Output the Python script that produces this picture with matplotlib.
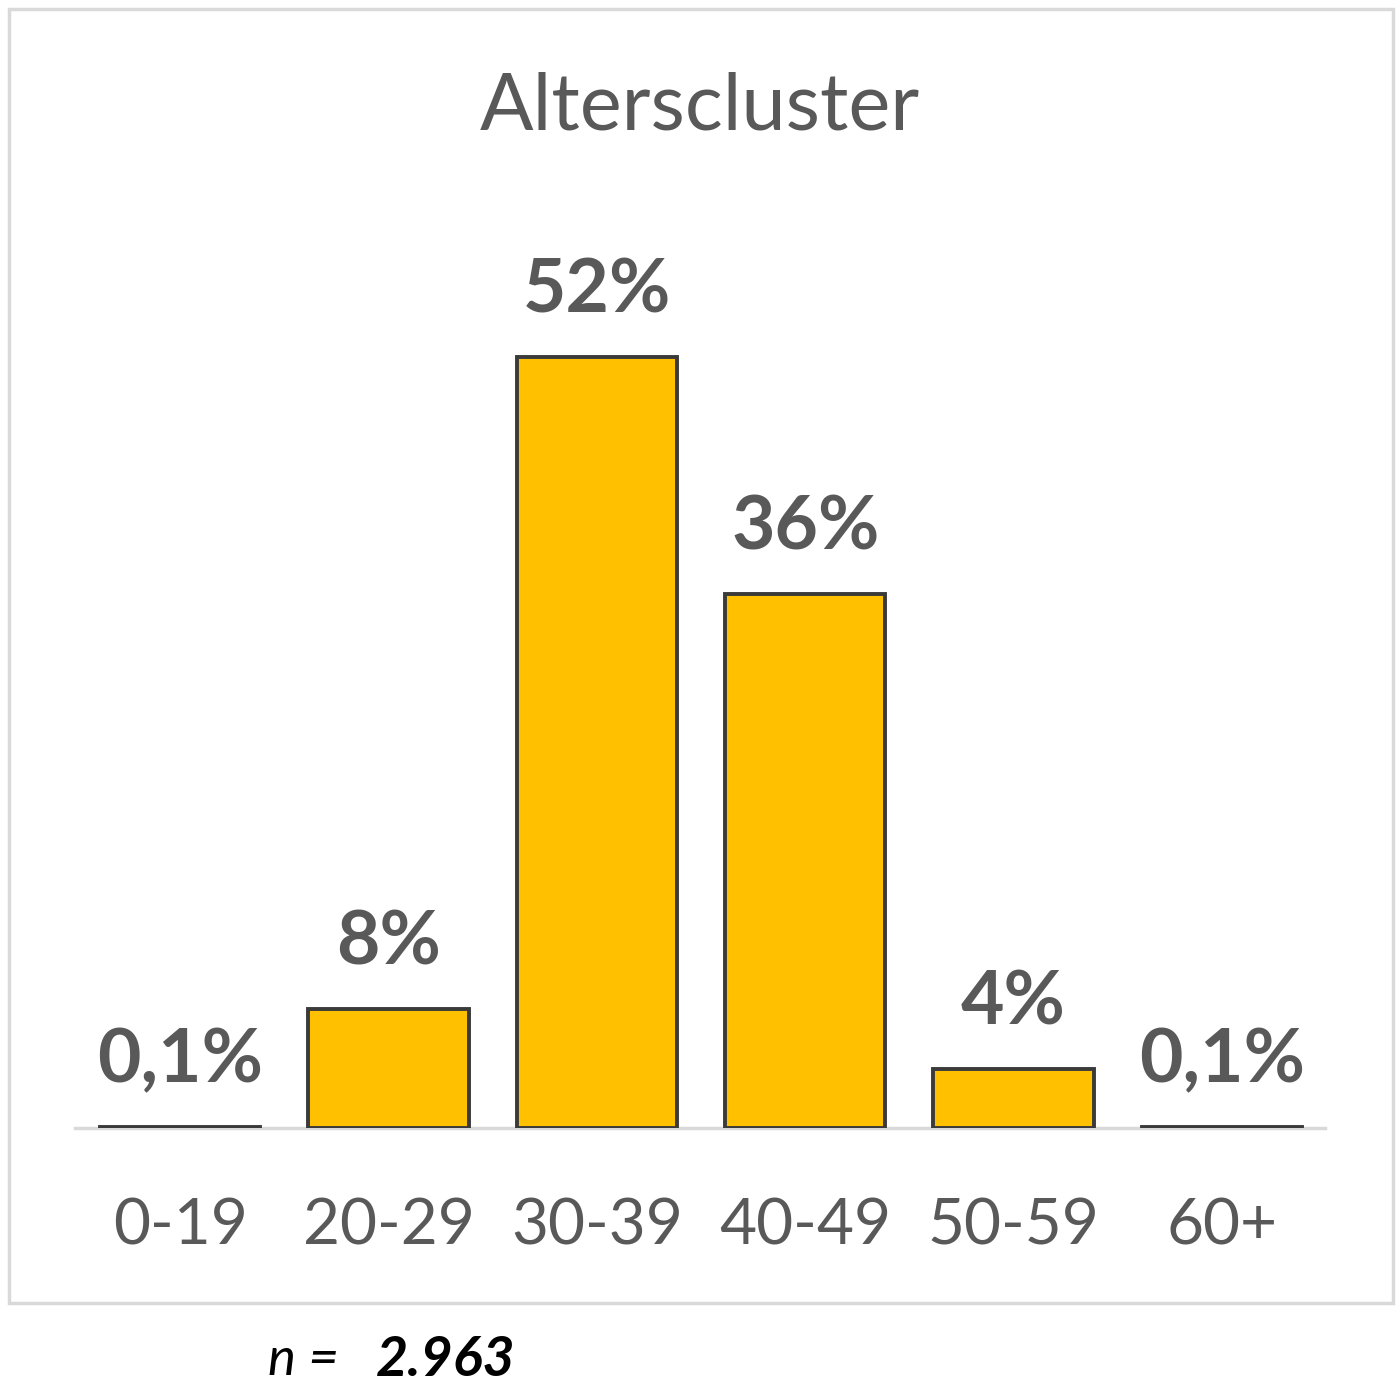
import matplotlib
matplotlib.use('Agg')
import matplotlib.pyplot as plt
from matplotlib.patches import Rectangle

plt.rcParams['font.family'] = ['Lato', 'DejaVu Sans']

categories = ['0-19', '20-29', '30-39', '40-49', '50-59', '60+']
values = [0.1, 8, 52, 36, 4, 0.1]
labels = ['0,1%', '8%', '52%', '36%', '4%', '0,1%']
title = 'Alterscluster'
n_text = '2.963'

grey = '#595959'

fig = plt.figure(figsize=(14, 14), dpi=100)
ax = fig.add_axes([75 / 1400, 1 - 1128 / 1400, 1250 / 1400, 890 / 1400])

x = list(range(len(categories)))
ax.bar(x, values, width=0.77, color='#FFC000', edgecolor='#3a3a3a', linewidth=2.8, zorder=3)

for xi, v, lab in zip(x, values, labels):
    ax.annotate(lab, (xi, v), xytext=(0, 32), textcoords='offset points',
                ha='center', va='baseline', fontsize=54, fontweight='bold', color=grey)

ax.set_xlim(-0.505, 5.495)
ax.set_ylim(0, 60)
ax.set_xticks(x)
ax.set_xticklabels(categories, fontsize=46, color=grey)
ax.tick_params(axis='x', length=0, pad=50)
ax.set_yticks([])
for side in ['top', 'right', 'left']:
    ax.spines[side].set_visible(False)
ax.spines['bottom'].set_color('#d9d9d9')
ax.spines['bottom'].set_linewidth(2.5)

fig.text(0.5, 1 - 108 / 1400, title, ha='center', va='center', fontsize=57, color=grey)

# chart area border
fig.patches.append(Rectangle((9 / 1400, 1 - 1303 / 1400), 1384 / 1400, 1294 / 1400,
                             transform=fig.transFigure, fill=False,
                             edgecolor='#d9d9d9', linewidth=2.5))

fig.text(268 / 1400, 1 - 1360 / 1400, 'n =', ha='left', va='center',
         fontsize=38, style='italic', color='black')
fig.text(376 / 1400, 1 - 1360 / 1400, n_text, ha='left', va='center',
         fontsize=40, style='italic', fontweight='bold', color='black')

fig.savefig('out.png', dpi=100, facecolor='white')
